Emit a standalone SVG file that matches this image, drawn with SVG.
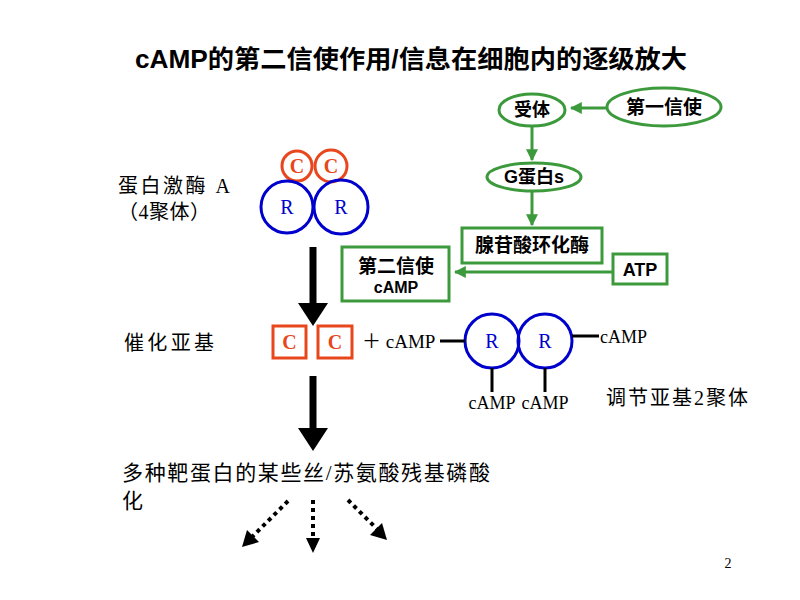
<svg xmlns="http://www.w3.org/2000/svg" width="800" height="600" viewBox="0 0 800 600">
<defs>
<style>
.t{font-family:"Liberation Serif","Noto Sans CJK SC",serif;fill:#000}
.b{font-family:"Liberation Sans","Noto Sans CJK SC",sans-serif;font-weight:bold;fill:#000}
.g{fill:none;stroke:#3c9a3c;stroke-width:3}
.gl{stroke:#3c9a3c;stroke-width:3;fill:none}
.bl{fill:none;stroke:#0000cc;stroke-width:3}
.or{fill:none;stroke:#e8461c;stroke-width:3}
.k{stroke:#000;stroke-width:3}
.dot{stroke:#000;stroke-width:4;stroke-dasharray:4 4;fill:none}
</style>
<marker id="ga" viewBox="0 0 10 10" refX="9" refY="5" markerWidth="4" markerHeight="4" orient="auto" markerUnits="strokeWidth"><path d="M0,0 L10,5 L0,10 z" fill="#3c9a3c"/></marker>
</defs>
<rect width="800" height="600" fill="#fff"/>
<text class="b" x="411" y="68" font-size="25" text-anchor="middle" textLength="552" lengthAdjust="spacingAndGlyphs">cAMP的第二信使作用/信息在细胞内的逐级放大</text>

<g id="first-messenger"><ellipse class="g" cx="664" cy="107" rx="57" ry="19"/><text class="b" x="664" y="114" font-size="19" text-anchor="middle">第一信使</text></g>
<g id="receptor"><ellipse class="g" cx="532" cy="110" rx="33" ry="16"/><text class="b" x="532" y="116" font-size="18" text-anchor="middle">受体</text></g>
<g id="g-protein"><ellipse class="g" cx="534" cy="177" rx="47" ry="14"/><text class="b" x="534" y="183" font-size="18" text-anchor="middle">G蛋白s</text></g>
<g id="adenylate-cyclase"><rect class="g" x="462" y="228" width="140" height="35"/><text class="b" x="532" y="252" font-size="19" text-anchor="middle">腺苷酸环化酶</text></g>
<g id="atp"><rect class="g" x="613" y="254" width="54" height="30"/><text class="b" x="640" y="276" font-size="18" text-anchor="middle">ATP</text></g>
<g id="second-messenger"><rect class="g" x="342" y="247" width="107" height="54"/><text class="b" x="396" y="273" font-size="19" text-anchor="middle">第二信使</text><text class="b" x="396" y="293" font-size="16" text-anchor="middle">cAMP</text></g>

<g id="pka">
<circle class="or" cx="297" cy="166" r="15"/><text class="t" x="297" y="173" font-size="20" font-weight="bold" text-anchor="middle" style="fill:#e8461c">C</text>
<circle class="or" cx="331" cy="166" r="16"/><text class="t" x="331" y="173" font-size="20" font-weight="bold" text-anchor="middle" style="fill:#e8461c">C</text>
<circle class="bl" cx="287" cy="207" r="26"/><text class="t" x="287" y="214" font-size="20" text-anchor="middle" style="fill:#0000cc">R</text>
<circle class="bl" cx="341" cy="207" r="27"/><text class="t" x="341" y="214" font-size="20" text-anchor="middle" style="fill:#0000cc">R</text>
</g>
<g id="pka-label"><text class="t" x="118" y="193" font-size="20" textLength="112" lengthAdjust="spacing">蛋白激酶 A</text><text class="t" x="118" y="219" font-size="20" textLength="92" lengthAdjust="spacing">（4聚体）</text></g>

<g id="catalytic">
<rect class="or" x="273" y="326" width="33" height="32"/><text class="t" x="289.5" y="349" font-size="20" font-weight="bold" text-anchor="middle" style="fill:#e8461c">C</text>
<rect class="or" x="318" y="326" width="34" height="32"/><text class="t" x="335" y="349" font-size="20" font-weight="bold" text-anchor="middle" style="fill:#e8461c">C</text>
</g>
<g id="catalytic-label"><text class="t" x="124" y="350" font-size="20" textLength="90" lengthAdjust="spacing">催化亚基</text></g>
<g id="plus-camp"><text class="t" x="362" y="348" font-size="19">＋ cAMP</text></g>

<g id="regulatory">
<circle class="bl" cx="492" cy="341" r="27"/><text class="t" x="492" y="348" font-size="20" text-anchor="middle" style="fill:#0000cc">R</text>
<circle class="bl" cx="545" cy="341" r="27"/><text class="t" x="545" y="348" font-size="20" text-anchor="middle" style="fill:#0000cc">R</text>
<text class="t" x="600" y="343" font-size="18">cAMP</text>
<text class="t" x="492" y="409" font-size="18" text-anchor="middle">cAMP</text>
<text class="t" x="545" y="409" font-size="18" text-anchor="middle">cAMP</text>
</g>
<g id="regulatory-label"><text class="t" x="606" y="405" font-size="20" textLength="142" lengthAdjust="spacing">调节亚基2聚体</text></g>

<g id="target-label"><text class="t" x="122" y="480" font-size="21" textLength="368" lengthAdjust="spacing">多种靶蛋白的某些丝/苏氨酸残基磷酸</text><text class="t" x="122" y="508" font-size="21">化</text></g>

<g id="connectors">
<line class="gl" x1="607" y1="108" x2="571" y2="108" marker-end="url(#ga)"/>
<line class="gl" x1="532" y1="126" x2="532" y2="160" marker-end="url(#ga)"/>
<line class="gl" x1="532" y1="191" x2="532" y2="225" marker-end="url(#ga)"/>
<line class="gl" x1="613" y1="272" x2="455" y2="272" marker-end="url(#ga)"/>
<line class="k" x1="440" y1="341" x2="465" y2="341"/>
<line class="k" x1="572" y1="336" x2="599" y2="336"/>
<line class="k" x1="492" y1="368" x2="492" y2="392"/>
<line class="k" x1="545" y1="368" x2="545" y2="392"/>
<path d="M309.5,247 H316.5 V303 H328 L313,326 L298,303 H309.5 Z" fill="#000"/>
<path d="M309.5,376 H316.5 V428 H328 L313,451 L298,428 H309.5 Z" fill="#000"/>
<line class="dot" x1="288" y1="501" x2="252" y2="537"/>
<path d="M242,547 L247,530 L259,542 Z" fill="#000"/>
<line class="dot" x1="313" y1="500" x2="313" y2="538"/>
<path d="M313,553 L306,538 L320,538 Z" fill="#000"/>
<line class="dot" x1="348" y1="500" x2="377" y2="529"/>
<path d="M387,540 L370,535 L382,523 Z" fill="#000"/>
</g>
<text class="t" x="728" y="568" font-size="14" text-anchor="middle">2</text>
</svg>
